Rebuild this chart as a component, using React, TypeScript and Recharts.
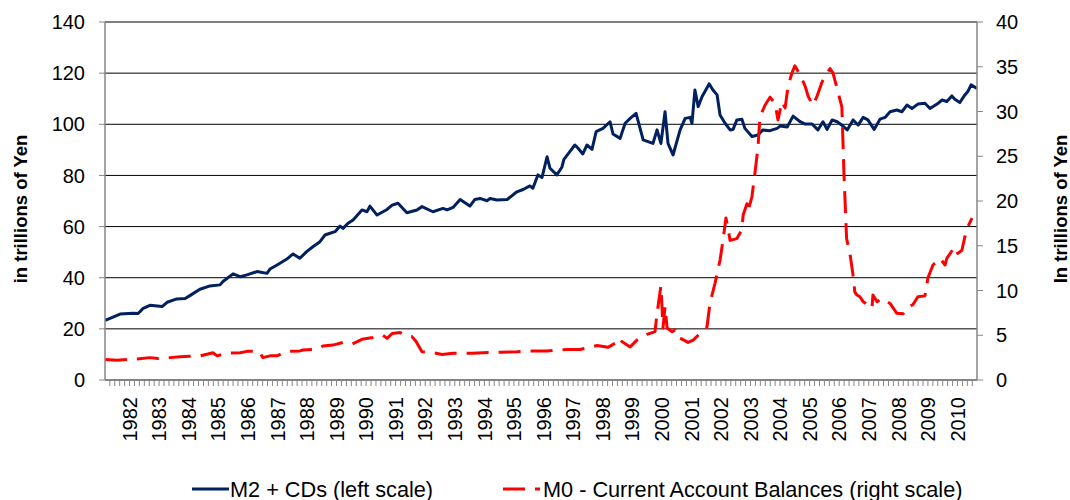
import { LineChart, Line, XAxis, YAxis, CartesianGrid, Legend } from "recharts";

const FONT = '"Liberation Sans", Arial, sans-serif';

// tick labels
const years = [
  1982, 1983, 1984, 1985, 1986, 1987, 1988, 1989, 1990, 1991, 1992, 1993, 1994, 1995, 1996,
  1997, 1998, 1999, 2000, 2001, 2002, 2003, 2004, 2005, 2006, 2007, 2008, 2009, 2010,
];
const leftTicks = [0, 20, 40, 60, 80, 100, 120, 140];
const rightTicks = [0, 5, 10, 15, 20, 25, 30, 35, 40];

// M2 + CDs, trillions of yen (left scale)
const m2Time = [
  1981.17, 1981.34, 1981.68, 1982.12, 1982.29, 1982.46, 1982.69, 1983.1, 1983.27, 1983.6,
  1983.88, 1984.04, 1984.38, 1984.72, 1985.06, 1985.16, 1985.5, 1985.74, 1985.97, 1986.31,
  1986.65, 1986.75, 1986.99, 1987.32, 1987.53, 1987.76, 1987.99, 1988.2, 1988.44, 1988.61,
  1988.78, 1988.95, 1989.12, 1989.22, 1989.39, 1989.56, 1989.86, 1990.03, 1990.13, 1990.37,
  1990.71, 1990.88, 1991.08, 1991.38, 1991.72, 1991.89, 1992.26, 1992.6, 1992.74, 1992.94,
  1993.18, 1993.51, 1993.68, 1993.85, 1994.09, 1994.19, 1994.43, 1994.77, 1995.1, 1995.31,
  1995.54, 1995.64, 1995.81, 1995.95, 1996.12, 1996.22, 1996.45, 1996.62, 1996.69, 1996.89,
  1997.06, 1997.17, 1997.33, 1997.47, 1997.64, 1997.78, 1998.01, 1998.25, 1998.35, 1998.59,
  1998.76, 1998.93, 1999.13, 1999.37, 1999.7, 1999.84, 1999.97, 2000.11, 2000.21, 2000.38,
  2000.62, 2000.79, 2000.96, 2001.02, 2001.12, 2001.23, 2001.36, 2001.46, 2001.6, 2001.73,
  2001.87, 2001.97, 2002.14, 2002.31, 2002.41, 2002.54, 2002.71, 2002.81, 2003.05, 2003.25,
  2003.42, 2003.66, 2003.9, 2004.0, 2004.24, 2004.44, 2004.68, 2004.85, 2005.08, 2005.28,
  2005.45, 2005.59, 2005.76, 2005.93, 2006.13, 2006.27, 2006.47, 2006.64, 2006.81, 2006.97,
  2007.18, 2007.38, 2007.55, 2007.72, 2007.95, 2008.12, 2008.29, 2008.46, 2008.66, 2008.9,
  2009.07, 2009.31, 2009.48, 2009.64, 2009.81, 2009.91, 2010.08, 2010.25, 2010.35, 2010.46,
  2010.66,
];
const m2Value = [
  23.3, 24.1, 25.8, 26.1, 26.0, 28.0, 29.2, 28.7, 30.4, 31.7,
  31.9, 33.0, 35.5, 36.8, 37.2, 38.5, 41.5, 40.4, 41.1, 42.4,
  41.7, 43.4, 45.0, 47.3, 49.3, 47.6, 50.2, 52.1, 54.1, 56.7,
  57.4, 58.0, 60.2, 59.3, 61.3, 62.6, 66.5, 65.8, 68.0, 64.5,
  66.7, 68.4, 69.1, 65.4, 66.5, 67.8, 65.8, 67.1, 66.5, 67.5,
  70.6, 68.0, 70.6, 71.0, 70.1, 71.0, 70.4, 70.6, 73.6, 74.5,
  75.9, 75.0, 80.2, 79.2, 87.3, 82.8, 80.2, 83.2, 86.3, 89.3,
  91.9, 90.6, 88.4, 91.9, 90.2, 97.1, 98.4, 101.0, 96.2, 94.5,
  100.4, 102.3, 104.3, 93.9, 92.5, 97.8, 92.5, 104.9, 92.5, 88.0,
  97.8, 102.3, 102.7, 100.4, 113.4, 106.9, 110.8, 112.8, 115.8, 113.4,
  111.5, 103.6, 100.4, 97.8, 98.0, 101.7, 102.0, 98.4, 95.2, 95.8,
  97.8, 97.5, 98.4, 99.3, 98.9, 103.2, 101.0, 100.1, 100.1, 97.8,
  101.0, 98.0, 101.7, 101.0, 99.3, 97.8, 101.7, 99.7, 102.7, 101.7,
  98.0, 102.0, 102.7, 104.9, 105.6, 104.9, 107.5, 106.2, 107.9, 108.2,
  106.2, 107.9, 109.5, 108.9, 111.1, 109.8, 108.5, 111.5, 112.8, 115.4,
  114.0,
];

// M0 - current account balances, trillions of yen (right scale)
const m0Time = [
  1981.17, 1981.58, 1981.91, 1982.25, 1982.69, 1982.96, 1983.37, 1983.71, 1984.04, 1984.38,
  1984.65, 1984.82, 1984.96, 1985.33, 1985.74, 1985.97, 1986.38, 1986.51, 1986.75, 1986.99,
  1987.32, 1987.76, 1987.87, 1988.34, 1988.54, 1988.88, 1989.22, 1989.52, 1989.86, 1990.23,
  1990.57, 1990.71, 1990.88, 1991.15, 1991.32, 1991.55, 1991.69, 1991.89, 1992.26, 1992.57,
  1992.94, 1993.58, 1993.95, 1994.53, 1995.1, 1995.64, 1996.12, 1996.79, 1997.23, 1997.81,
  1998.18, 1998.42, 1998.52, 1998.65, 1998.93, 1999.16, 1999.5, 1999.77, 1999.84, 1999.97,
  2000.01, 2000.04, 2000.11, 2000.18, 2000.35, 2000.45, 2000.55, 2000.89, 2001.06, 2001.23,
  2001.53, 2001.63, 2001.8, 2001.9, 2001.97, 2002.07, 2002.17, 2002.24, 2002.31, 2002.54,
  2002.71, 2002.75, 2002.88, 2002.91, 2003.05, 2003.15, 2003.25, 2003.32, 2003.49, 2003.66,
  2003.83, 2003.93, 2004.06, 2004.17, 2004.27, 2004.4, 2004.5, 2004.68, 2004.85, 2004.95,
  2005.11, 2005.25, 2005.42, 2005.59, 2005.69, 2005.79, 2005.96, 2006.09, 2006.16, 2006.25,
  2006.36, 2006.46, 2006.53, 2006.6, 2006.7, 2006.81, 2006.97, 2007.11, 2007.14, 2007.28,
  2007.45, 2007.72, 2007.95, 2008.16, 2008.33, 2008.49, 2008.66, 2008.9, 2009.0, 2009.17,
  2009.41, 2009.58, 2009.64, 2009.91, 2010.01, 2010.15, 2010.25, 2010.35, 2010.49,
];
const m0Value = [
  2.3, 2.2, 2.3, 2.35, 2.5, 2.4, 2.5, 2.6, 2.65, 2.7,
  2.9, 3.05, 2.7, 3.0, 3.05, 3.2, 3.2, 2.5, 2.7, 2.7,
  3.2, 3.25, 3.35, 3.45, 3.8, 3.9, 4.2, 4.0, 4.55, 4.75,
  5.0, 4.65, 5.2, 5.3, 5.0, 4.85, 4.3, 3.15, 3.05, 2.85,
  3.0, 3.0, 3.05, 3.1, 3.15, 3.25, 3.25, 3.4, 3.4, 3.85,
  3.65, 4.1, 3.7, 4.3, 3.7, 4.45, 5.1, 5.4, 7.45, 10.5,
  8.0, 5.8, 8.2, 5.8, 5.4, 5.6, 4.8, 4.2, 4.45, 5.0,
  5.95, 8.6, 10.8, 12.3, 13.4, 15.6, 18.1, 16.95, 15.6, 15.8,
  16.8, 18.4, 19.7, 18.8, 20.5, 23.1, 25.9, 29.4, 30.7, 31.6,
  30.9, 29.05, 31.1, 30.4, 32.8, 34.3, 35.1, 34.1, 32.8, 31.7,
  30.7, 31.7, 33.3, 34.3, 34.8, 34.3, 32.2, 30.5, 23.1, 15.8,
  14.2, 11.9, 9.8, 9.5, 9.3, 8.75, 8.4, 8.0, 9.5, 8.75,
  9.1, 8.55, 7.45, 7.4, 8.2, 8.4, 9.3, 9.4, 11.4, 12.85,
  13.6, 12.85, 13.6, 14.9, 14.15, 14.5, 16.0, 17.1, 18.1,
];

const m2Data = m2Time.map((t, i) => ({ t, m2: m2Value[i] }));
const m0Data = m0Time.map((t, i) => ({ t, m0: m0Value[i] }));

const X_DOMAIN = [1981.17, 2010.66];

// minor tick marks every two months, labels only on whole years
const xTicks: number[] = [];
for (let y = 1981; y <= 2010; y++) {
  for (let k = 0; k < 6; k++) {
    const t = y + k / 6;
    if (t >= X_DOMAIN[0] && t <= X_DOMAIN[1]) xTicks.push(t);
  }
}

function YearTick(props: any) {
  const { x, y, payload } = props;
  if (!years.includes(payload.value)) return <g />;
  return (
    <text
      x={x}
      y={y}
      dy="0.36em"
      textAnchor="end"
      transform={`rotate(-90 ${x} ${y})`}
      fontSize={20}
      fontFamily={FONT}
      fill="#000"
    >
      {payload.value}
    </text>
  );
}

function AxisTitle({ cx, cy, text }: { cx: number; cy: number; text: string }) {
  return (
    <text
      x={cx}
      y={cy}
      dy="0.36em"
      textAnchor="middle"
      transform={`rotate(-90 ${cx} ${cy})`}
      fontSize={18.5}
      fontWeight="bold"
      fontFamily={FONT}
      fill="#000"
    >
      {text}
    </text>
  );
}

const legendSpots: Record<string, { line: number; text: number }> = {
  m2: { line: 192, text: 230 },
  m0: { line: 503, text: 543 },
};

function LegendContent(props: any) {
  const items = props.payload || [];
  return (
    <div style={{ position: "relative", width: 1070, height: 30, fontFamily: FONT, fontSize: 21.7, color: "#000" }}>
      {items.map((item: any) => {
        const spot = legendSpots[item.dataKey];
        if (!spot) return null;
        return (
          <div key={item.dataKey}>
            <svg style={{ position: "absolute", left: spot.line, top: 0 }} width={37} height={30}>
              <line
                x1={0}
                x2={37}
                y1={14}
                y2={14}
                stroke={item.color}
                strokeWidth={3}
                strokeDasharray={item.payload.strokeDasharray}
              />
            </svg>
            <span style={{ position: "absolute", left: spot.text, top: 0, lineHeight: "30px", whiteSpace: "nowrap" }}>
              {item.value}
            </span>
          </div>
        );
      })}
    </div>
  );
}

export default function App() {
  return (
    <div style={{ position: "absolute", left: 0, top: 0, width: 1070, height: 500, background: "#fff" }}>
      <LineChart width={1070} height={500} margin={{ top: 22, right: 0, bottom: 0, left: 0 }}>
        <CartesianGrid yAxisId="left" vertical={false} stroke="#000" strokeWidth={1} />
        <XAxis
          type="number"
          dataKey="t"
          domain={X_DOMAIN}
          ticks={xTicks}
          interval={0}
          height={120}
          tickSize={6}
          tickMargin={11}
          tick={<YearTick />}
          axisLine={{ stroke: "#868686", strokeWidth: 1.5 }}
          tickLine={{ stroke: "#868686" }}
          allowDataOverflow
        />
        <YAxis
          yAxisId="left"
          width={105}
          domain={[0, 140]}
          ticks={leftTicks}
          interval={0}
          tickSize={6}
          tickMargin={14}
          tick={{ fontSize: 20, fill: "#000", fontFamily: FONT }}
          axisLine={{ stroke: "#868686", strokeWidth: 1.5 }}
          tickLine={{ stroke: "#868686" }}
          label={<AxisTitle cx={20.5} cy={209} text="in trillions of Yen" />}
        />
        <YAxis
          yAxisId="right"
          orientation="right"
          width={93}
          domain={[0, 40]}
          ticks={rightTicks}
          interval={0}
          tickSize={6}
          tickMargin={13}
          tick={{ fontSize: 20, fill: "#000", fontFamily: FONT, textAnchor: "start" }}
          axisLine={{ stroke: "#868686", strokeWidth: 1.5 }}
          tickLine={{ stroke: "#868686" }}
          label={<AxisTitle cx={1060} cy={209} text="In trillions of Yen" />}
        />
        <Line
          yAxisId="left"
          data={m2Data}
          dataKey="m2"
          name="M2 + CDs (left scale)"
          type="linear"
          stroke="#002060"
          strokeWidth={3}
          strokeLinejoin="round"
          dot={false}
          isAnimationActive={false}
        />
        <Line
          yAxisId="right"
          data={m0Data}
          dataKey="m0"
          name="M0 - Current Account Balances (right scale)"
          type="linear"
          stroke="#ff0000"
          strokeWidth={3}
          strokeDasharray="22 10"
          strokeLinejoin="round"
          dot={false}
          isAnimationActive={false}
        />
        <Legend
          verticalAlign="middle"
          layout="horizontal"
          content={<LegendContent />}
          wrapperStyle={{ top: 475, left: 0, width: 1070, height: 30 }}
        />
      </LineChart>
    </div>
  );
}
